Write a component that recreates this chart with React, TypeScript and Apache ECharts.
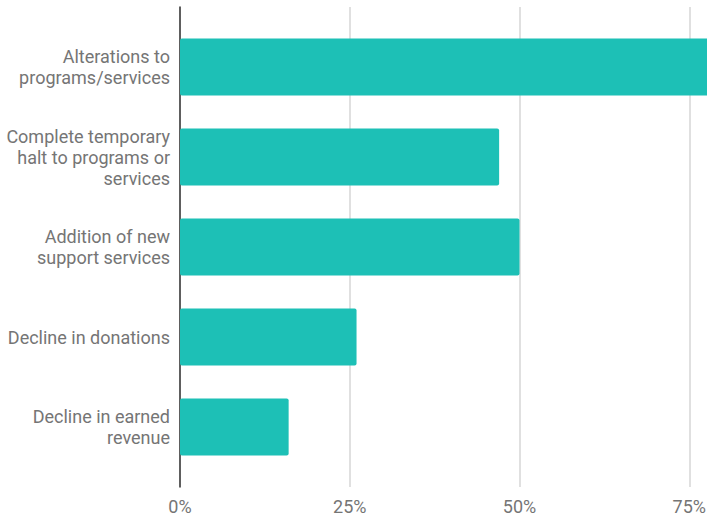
import React, { useEffect, useRef } from "react";
import * as echarts from "echarts";

const categories = [
  "Alterations to\nprograms/services",
  "Complete temporary\nhalt to programs or\nservices",
  "Addition of new\nsupport services",
  "Decline in donations",
  "Decline in earned\nrevenue",
];
const values = [79, 47, 50, 26, 16];
const tickValues = [0, 25, 50, 75];
const tickLabels = ["0%", "25%", "50%", "75%"];

const TEXT = "#757575";
const FONT = "Roboto, 'Noto Sans', sans-serif";

export default function App() {
  const ref = useRef<HTMLDivElement>(null);
  useEffect(() => {
    if (!ref.current) return;
    const chart = echarts.init(ref.current, undefined, { renderer: "svg" });
    const fmt = (v: number) => {
      const i = tickValues.indexOf(v);
      return i >= 0 ? tickLabels[i] : "";
    };
    chart.setOption({
      animation: false,
      backgroundColor: "#ffffff",
      textStyle: { fontFamily: FONT },
      grid: [
        { left: 180, top: 22, width: 679, height: 450, containLabel: false },
        { left: 180, top: 7, width: 679, height: 480, containLabel: false },
      ],
      xAxis: [
        {
          gridIndex: 0,
          type: "value",
          min: 0,
          max: 100,
          interval: 25,
          show: false,
        },
        {
          gridIndex: 1,
          type: "value",
          min: 0,
          max: 100,
          interval: 25,
          axisLine: { show: false },
          axisTick: { show: false },
          splitLine: { show: true, lineStyle: { color: "#d6d6d6", width: 1.5 } },
          axisLabel: {
            color: TEXT,
            fontSize: 18,
            fontFamily: FONT,
            margin: 10,
            formatter: fmt,
          },
        },
      ],
      yAxis: [
        {
          gridIndex: 0,
          type: "category",
          inverse: true,
          data: categories,
          axisLine: { show: false },
          axisTick: { show: false },
          splitLine: { show: false },
          axisLabel: {
            color: TEXT,
            fontSize: 18,
            fontFamily: FONT,
            lineHeight: 21,
            margin: 10,
            align: "right",
          },
        },
        {
          gridIndex: 1,
          type: "value",
          min: 0,
          max: 1,
          axisLine: { show: true, onZero: false, lineStyle: { color: "#333333", width: 1.5 } },
          axisTick: { show: false },
          axisLabel: { show: false },
          splitLine: { show: false },
        },
      ],
      series: [
        {
          type: "bar",
          xAxisIndex: 0,
          yAxisIndex: 0,
          data: values,
          barWidth: 57,
          itemStyle: { color: "#1DC0B6", borderRadius: 2 },
          z: 3,
        },
      ],
    });
    return () => chart.dispose();
  }, []);
  return (
    <div
      style={{
        position: "absolute",
        left: 0,
        top: 0,
        width: 707,
        height: 516,
        overflow: "hidden",
      }}
    >
      <div ref={ref} style={{ width: 900, height: 516 }} />
    </div>
  );
}
